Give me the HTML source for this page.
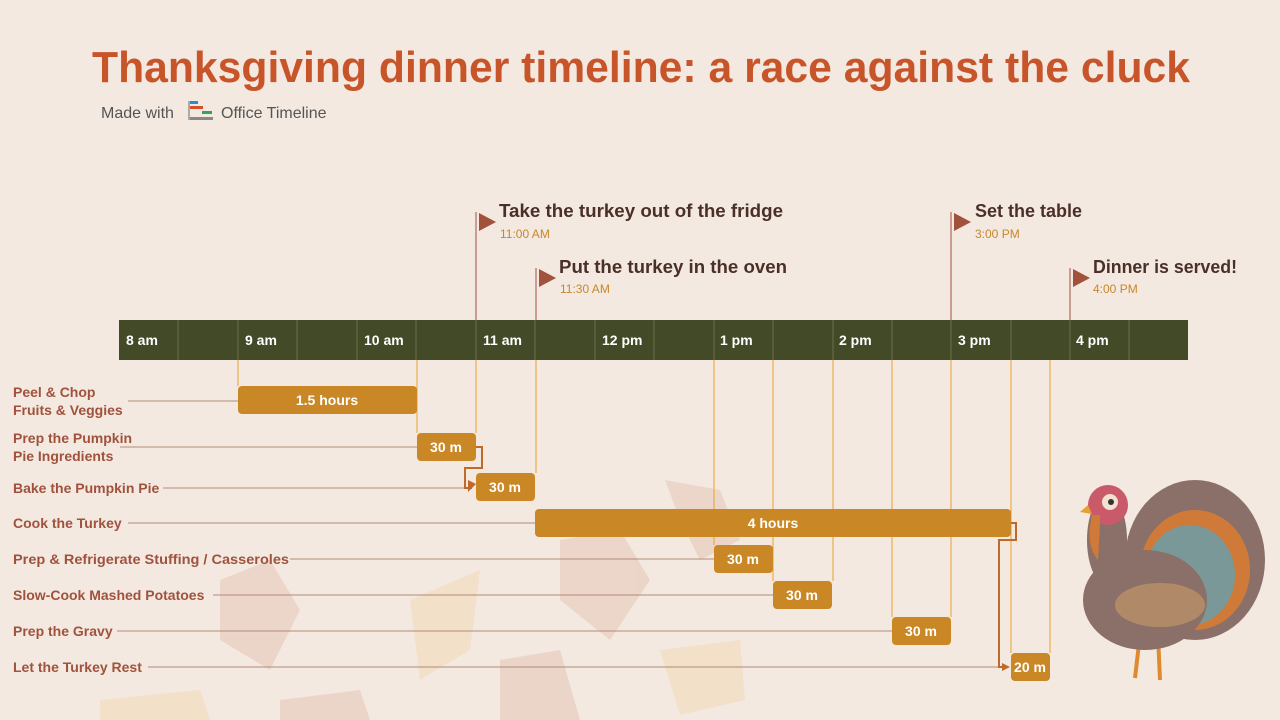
<!DOCTYPE html>
<html><head><meta charset="utf-8"><style>
body{margin:0;background:#f3e9e0;}
svg{display:block;font-family:"Liberation Sans",sans-serif;}
</style></head><body>
<svg width="1280" height="720" viewBox="0 0 1280 720">
<rect width="1280" height="720" fill="#f3e9e0"/>
<!-- faint leaves -->
<g opacity="0.2">
<path d="M665 480 L720 490 L740 540 L700 560 L680 520Z" fill="#d08a70"/>
<path d="M560 540 L620 530 L650 580 L610 640 L560 600Z" fill="#d08a70"/>
<path d="M220 580 L270 560 L300 610 L270 670 L220 640Z" fill="#d08a70"/>
<path d="M410 600 L480 570 L470 650 L420 680Z" fill="#f0c070"/>
<path d="M660 650 L740 640 L745 700 L680 715Z" fill="#f0c070"/>
<path d="M500 660 L560 650 L580 720 L500 720Z" fill="#d08a70"/>
<path d="M100 700 L200 690 L210 720 L100 720Z" fill="#f0c070"/>
<path d="M280 700 L360 690 L370 720 L280 720Z" fill="#d08a70"/>
</g>
<text x="92" y="82" textLength="1098" lengthAdjust="spacingAndGlyphs" font-size="44" font-weight="bold" fill="#c8552a">Thanksgiving dinner timeline: a race against the cluck</text>
<text x="101" y="118" font-size="16" fill="#555">Made with</text>
<rect x="188" y="101" width="10" height="3" fill="#2a8ad8"/>
<rect x="190" y="106" width="13" height="3" fill="#d8502a"/>
<rect x="202" y="111" width="10" height="3" fill="#3aa060"/>
<rect x="188" y="117" width="25" height="3" fill="#888"/>
<rect x="188" y="101" width="2" height="19" fill="#aaa"/>
<text x="221" y="118" font-size="16" fill="#555">Office Timeline</text>
<!-- milestones -->
<g stroke="#a0523d" stroke-width="1">
<line x1="476" y1="212" x2="476" y2="320"/>
<line x1="536" y1="268" x2="536" y2="320"/>
<line x1="951" y1="212" x2="951" y2="320"/>
<line x1="1070" y1="268" x2="1070" y2="320"/>
</g>
<g fill="#a0523d">
<path d="M479 213 L496 222 L479 231Z"/>
<path d="M539 269 L556 278 L539 287Z"/>
<path d="M954 213 L971 222 L954 231Z"/>
<path d="M1073 269 L1090 278 L1073 287Z"/>
</g>
<g font-weight="bold" font-size="18" fill="#4a3028">
<text x="499" y="217" textLength="284" lengthAdjust="spacingAndGlyphs">Take the turkey out of the fridge</text>
<text x="559" y="273" textLength="228" lengthAdjust="spacingAndGlyphs">Put the turkey in the oven</text>
<text x="975" y="217">Set the table</text>
<text x="1093" y="273" textLength="144" lengthAdjust="spacingAndGlyphs">Dinner is served!</text>
</g>
<g font-size="12" fill="#c8862a">
<text x="500" y="238">11:00 AM</text>
<text x="560" y="293">11:30 AM</text>
<text x="975" y="238">3:00 PM</text>
<text x="1093" y="293">4:00 PM</text>
</g>
<!-- bar -->
<rect x="119" y="320" width="1069" height="40" fill="#434a27"/>
<g stroke="#6b7048" stroke-width="1">
<line x1="178" y1="320" x2="178" y2="360"/><line x1="238" y1="320" x2="238" y2="360"/>
<line x1="297" y1="320" x2="297" y2="360"/><line x1="357" y1="320" x2="357" y2="360"/>
<line x1="416" y1="320" x2="416" y2="360"/><line x1="476" y1="320" x2="476" y2="360"/>
<line x1="535" y1="320" x2="535" y2="360"/><line x1="595" y1="320" x2="595" y2="360"/>
<line x1="654" y1="320" x2="654" y2="360"/><line x1="714" y1="320" x2="714" y2="360"/>
<line x1="773" y1="320" x2="773" y2="360"/><line x1="833" y1="320" x2="833" y2="360"/>
<line x1="892" y1="320" x2="892" y2="360"/><line x1="951" y1="320" x2="951" y2="360"/>
<line x1="1011" y1="320" x2="1011" y2="360"/><line x1="1070" y1="320" x2="1070" y2="360"/>
<line x1="1129" y1="320" x2="1129" y2="360"/>
</g>
<g font-size="14" font-weight="bold" fill="#fff">
<text x="126" y="345">8 am</text><text x="245" y="345">9 am</text><text x="364" y="345">10 am</text>
<text x="483" y="345">11 am</text><text x="602" y="345">12 pm</text><text x="720" y="345">1 pm</text>
<text x="839" y="345">2 pm</text><text x="958" y="345">3 pm</text><text x="1076" y="345">4 pm</text>
</g>
<!-- vertical guides -->
<g stroke="#e8a030" stroke-width="1">
<line x1="238" y1="360" x2="238" y2="386"/>
<line x1="417" y1="360" x2="417" y2="433"/>
<line x1="476" y1="360" x2="476" y2="433"/>
<line x1="536" y1="360" x2="536" y2="473"/>
<line x1="714" y1="360" x2="714" y2="545"/>
<line x1="773" y1="360" x2="773" y2="581"/>
<line x1="833" y1="360" x2="833" y2="581"/>
<line x1="892" y1="360" x2="892" y2="617"/>
<line x1="951" y1="360" x2="951" y2="617"/>
<line x1="1011" y1="360" x2="1011" y2="653"/>
<line x1="1050" y1="360" x2="1050" y2="653"/>
</g>
<!-- label lines -->
<g stroke="#b08a78" stroke-width="1">
<line x1="128" y1="401" x2="238" y2="401"/>
<line x1="120" y1="447" x2="417" y2="447"/>
<line x1="163" y1="488" x2="465" y2="488"/>
<line x1="128" y1="523" x2="535" y2="523"/>
<line x1="290" y1="559" x2="714" y2="559"/>
<line x1="213" y1="595" x2="773" y2="595"/>
<line x1="117" y1="631" x2="892" y2="631"/>
<line x1="148" y1="667" x2="998" y2="667"/>
</g>
<!-- dependencies -->
<g stroke="#c06a2a" stroke-width="2" fill="none">
<path d="M476 447 H482 V468 H465 V488 H472"/>
<path d="M1011 523 H1016 V540 H999 V667 H1006"/>
</g>
<g fill="#c06a2a"><path d="M476 484 L468 480 V492Z"/><path d="M1010 667 L1002 663 V671Z"/></g>
<!-- task bars -->
<g fill="#c98726">
<rect x="238" y="386" width="179" height="28" rx="4"/>
<rect x="417" y="433" width="59" height="28" rx="4"/>
<rect x="476" y="473" width="59" height="28" rx="4"/>
<rect x="535" y="509" width="476" height="28" rx="4"/>
<rect x="714" y="545" width="59" height="28" rx="4"/>
<rect x="773" y="581" width="59" height="28" rx="4"/>
<rect x="892" y="617" width="59" height="28" rx="4"/>
<rect x="1011" y="653" width="39" height="28" rx="4"/>
</g>
<g font-size="14" font-weight="bold" fill="#fff" text-anchor="middle">
<text x="327" y="405">1.5 hours</text>
<text x="446" y="452">30 m</text>
<text x="505" y="492">30 m</text>
<text x="773" y="528">4 hours</text>
<text x="743" y="564">30 m</text>
<text x="802" y="600">30 m</text>
<text x="921" y="636">30 m</text>
<text x="1030" y="672">20 m</text>
</g>
<g font-size="14" font-weight="bold" fill="#a0523d">
<text x="13" y="397">Peel &amp; Chop</text><text x="13" y="415">Fruits &amp; Veggies</text>
<text x="13" y="443">Prep the Pumpkin</text><text x="13" y="461">Pie Ingredients</text>
<text x="13" y="493">Bake the Pumpkin Pie</text>
<text x="13" y="528">Cook the Turkey</text>
<text x="13" y="564" textLength="276" lengthAdjust="spacingAndGlyphs">Prep &amp; Refrigerate Stuffing / Casseroles</text>
<text x="13" y="600">Slow-Cook Mashed Potatoes</text>
<text x="13" y="636">Prep the Gravy</text>
<text x="13" y="672">Let the Turkey Rest</text>
</g>
<!-- turkey -->
<g>
<ellipse cx="1195" cy="560" rx="70" ry="80" fill="#8a7068"/>
<ellipse cx="1195" cy="570" rx="55" ry="60" fill="#d07a3a"/>
<ellipse cx="1190" cy="575" rx="45" ry="50" fill="#7a9898"/>
<line x1="1140" y1="635" x2="1135" y2="678" stroke="#e08a30" stroke-width="4"/>
<line x1="1158" y1="635" x2="1160" y2="680" stroke="#e08a30" stroke-width="4"/>
<ellipse cx="1145" cy="600" rx="62" ry="50" fill="#8a7068"/>
<ellipse cx="1160" cy="605" rx="45" ry="22" fill="#b08a68"/>
<ellipse cx="1107" cy="540" rx="20" ry="45" fill="#8a7068"/>
<circle cx="1108" cy="505" r="20" fill="#c85a6a"/>
<circle cx="1110" cy="502" r="8" fill="#f3e0d0"/>
<circle cx="1111" cy="502" r="3" fill="#333"/>
<path d="M1088 505 L1080 512 L1092 514Z" fill="#e8a030"/>
<path d="M1092 515 Q1085 545 1098 560 Q1100 530 1100 515Z" fill="#d07a3a"/>
</g>
</svg>
</body></html>
